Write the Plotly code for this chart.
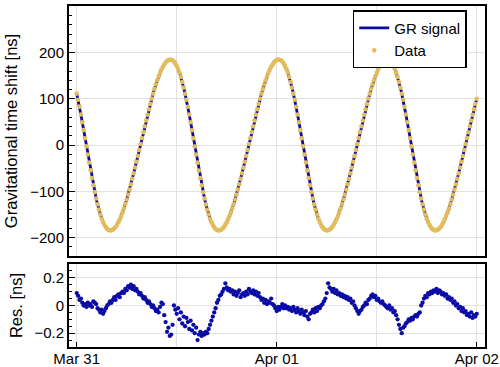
import pandas as pd
import plotly.graph_objects as go

# ---- data (10-minute samples, Mar 31 00:00 -> Apr 02 00:00) ----
start_time = "2016-03-31 00:00"
n_samples = 289
sample_step = "10min"

gr_signal_ns = [
    111.1, 97.9, 82.9, 66.0, 49.3, 32.2, 14.7, -2.9, -20.5, -37.9,
    -54.8, -71.3, -87.0, -101.9, -115.6, -128.3, -139.8, -150.2, -159.3, -166.7,
    -172.9, -177.8, -181.5, -183.9, -184.8, -184.5, -183.1, -180.7, -177.3, -172.7,
    -167.1, -160.8, -153.6, -145.8, -137.1, -127.7, -117.8, -107.4, -96.5, -85.1,
    -73.3, -61.3, -48.9, -36.3, -23.6, -10.8, 2.1, 15.0, 27.8, 40.5,
    53.0, 65.3, 77.3, 88.9, 100.2, 111.0, 121.2, 130.9, 140.0, 148.4,
    156.2, 163.0, 169.0, 174.2, 178.5, 181.8, 183.8, 184.7, 184.5, 183.1,
    180.6, 176.5, 171.0, 164.3, 156.3, 147.0, 136.3, 124.2,
    111.1, 97.9, 82.9, 66.0, 49.3, 32.2, 14.7, -2.9, -20.5, -37.9,
    -54.8, -71.3, -87.0, -101.9, -115.6, -128.3, -139.8, -150.2, -159.3, -166.7,
    -172.9, -177.8, -181.5, -183.9, -184.8, -184.5, -183.1, -180.7, -177.3, -172.7,
    -167.1, -160.8, -153.6, -145.8, -137.1, -127.7, -117.8, -107.4, -96.5, -85.1,
    -73.3, -61.3, -48.9, -36.3, -23.6, -10.8, 2.1, 15.0, 27.8, 40.5,
    53.0, 65.3, 77.3, 88.9, 100.2, 111.0, 121.2, 130.9, 140.0, 148.4,
    156.2, 163.0, 169.0, 174.2, 178.5, 181.8, 183.8, 184.7, 184.5, 183.1,
    180.6, 176.5, 171.0, 164.3, 156.3, 147.0, 136.3, 124.2,
    111.1, 97.9, 82.9, 66.0, 49.3, 32.2, 14.7, -2.9, -20.5, -37.9,
    -54.8, -71.3, -87.0, -101.9, -115.6, -128.3, -139.8, -150.2, -159.3, -166.7,
    -172.9, -177.8, -181.5, -183.9, -184.8, -184.5, -183.1, -180.7, -177.3, -172.7,
    -167.1, -160.8, -153.6, -145.8, -137.1, -127.7, -117.8, -107.4, -96.5, -85.1,
    -73.3, -61.3, -48.9, -36.3, -23.6, -10.8, 2.1, 15.0, 27.8, 40.5,
    53.0, 65.3, 77.3, 88.9, 100.2, 111.0, 121.2, 130.9, 140.0, 148.4,
    156.2, 163.0, 169.0, 174.2, 178.5, 181.8, 183.8, 184.7, 184.5, 183.1,
    180.6, 176.5, 171.0, 164.3, 156.3, 147.0, 136.3, 124.2,
    111.1, 97.9, 82.9, 66.0, 49.3, 32.2, 14.7, -2.9, -20.5, -37.9,
    -54.8, -71.3, -87.0, -101.9, -115.6, -128.3, -139.8, -150.2, -159.3, -166.7,
    -172.9, -177.8, -181.5, -183.9, -184.8, -184.5, -183.1, -180.7, -177.3, -172.7,
    -167.1, -160.8, -153.6, -145.8, -137.1, -127.7, -117.8, -107.4, -96.5, -85.1,
    -73.3, -61.3, -48.9, -36.3, -23.6, -10.8, 2.1, 15.0, 27.8, 40.5,
    53.0, 65.3, 77.3, 88.9, 100.2,
]

residual_ns = [
    0.09, 0.07, 0.04, 0.05, 0.02, 0.00, 0.01, -0.01, 0.02, 0.00,
    0.01, -0.01, 0.03, 0.02, 0.01, -0.02, -0.03, -0.05, -0.03, -0.06,
    -0.04, -0.02, 0.00, 0.01, 0.03, 0.02, 0.04, 0.06, 0.04, 0.07,
    0.08, 0.06, 0.09, 0.10, 0.09, 0.12, 0.11, 0.14, 0.13, 0.15,
    0.12, 0.14, 0.11, 0.12, 0.10, 0.08, 0.09, 0.07, 0.05, 0.06,
    0.04, 0.02, 0.03, 0.01, -0.01, 0.00, -0.02, -0.04, -0.03, -0.05,
    -0.01, 0.02, 0.01, -0.07, -0.12, -0.19, -0.16, -0.22, -0.21, -0.14,
    0.00, -0.03, -0.06, -0.02, -0.10, -0.05, -0.13, -0.08, -0.15, -0.09,
    -0.12, -0.17, -0.11, -0.18, -0.14, -0.20, -0.16, -0.25, -0.21, -0.19,
    -0.22, -0.20, -0.21, -0.19, -0.20, -0.17, -0.14, -0.11, -0.08, -0.05,
    -0.02, 0.02, 0.04, 0.07, 0.08, 0.10, 0.12, 0.16, 0.13, 0.11,
    0.12, 0.10, 0.11, 0.08, 0.10, 0.07, 0.09, 0.11, 0.06, 0.08,
    0.09, 0.07, 0.10, 0.08, 0.12, 0.10, 0.09, 0.11, 0.08, 0.10,
    0.07, 0.09, 0.06, 0.04, 0.05, 0.02, 0.04, 0.01, 0.03, 0.02,
    0.05, 0.01, 0.00, -0.02, -0.04, -0.01, -0.03, -0.01, 0.01, -0.02,
    0.00, -0.02, -0.01, -0.03, -0.02, -0.04, -0.01, -0.03, -0.05, -0.02,
    -0.04, -0.06, -0.03, -0.05, -0.07, -0.04, -0.08, -0.10, -0.06, -0.05,
    -0.03, -0.05, -0.02, -0.04, -0.01, -0.02, 0.00, 0.01, 0.03, 0.05,
    0.09, 0.16, 0.13, 0.12, 0.10, 0.12, 0.09, 0.11, 0.08, 0.09,
    0.07, 0.08, 0.06, 0.07, 0.05, 0.06, 0.04, 0.05, 0.02, 0.03,
    0.00, -0.02, -0.04, -0.06, -0.04, -0.03, -0.01, 0.00, 0.02, 0.01,
    0.04, 0.05, 0.07, 0.08, 0.06, 0.07, 0.04, 0.05, 0.03, 0.02,
    0.03, 0.01, 0.00, -0.01, -0.02, 0.00, -0.03, -0.02, -0.05, -0.04,
    -0.07, -0.10, -0.14, -0.17, -0.20, -0.16, -0.15, -0.13, -0.12, -0.10,
    -0.11, -0.09, -0.10, -0.08, -0.07, -0.08, -0.06, -0.05, 0.00, 0.02,
    0.05, 0.07, 0.06, 0.09, 0.08, 0.10, 0.09, 0.11, 0.10, 0.12,
    0.09, 0.11, 0.10, 0.08, 0.09, 0.07, 0.08, 0.05, 0.06, 0.04,
    0.05, 0.02, 0.03, 0.00, 0.01, -0.02, -0.01, -0.04, -0.02, -0.05,
    -0.04, -0.07, -0.06, -0.08, -0.05, -0.09, -0.07, -0.08, -0.06,
]

x_tick_labels = ["Mar 31", "Apr 01", "Apr 02"]
x_tick_values = ["2016-03-31", "2016-04-01", "2016-04-02"]

# ---- derived table ----
times = pd.date_range(start_time, periods=n_samples, freq=sample_step)
df = pd.DataFrame({"t": times, "gr": gr_signal_ns, "res": residual_ns})
df["data"] = df["gr"] + df["res"]

BLUE = "#0B0BA6"
GOLD = "#E3BC5B"
FONT = "Liberation Sans, Arial, Helvetica, sans-serif"
GRID = "#E2E2E2"

fig = go.Figure()
fig.add_trace(go.Scatter(x=df["t"], y=df["gr"], mode="lines", name="GR signal",
                         line=dict(color=BLUE, width=2.8), xaxis="x", yaxis="y"))
fig.add_trace(go.Scatter(x=df["t"], y=df["data"], mode="markers", name="Data",
                         marker=dict(color=GOLD, size=4.6), xaxis="x", yaxis="y"))
fig.add_trace(go.Scatter(x=df["t"], y=df["res"], mode="markers", showlegend=False,
                         marker=dict(color=BLUE, size=4.3), xaxis="x2", yaxis="y2"))

xrange = ["2016-03-30 23:04:30", "2016-04-02 00:59:30"]
common_x = dict(type="date", range=xrange, showline=True, mirror=True, linewidth=2,
                linecolor="black", showgrid=True, gridcolor=GRID, gridwidth=1,
                zeroline=False, automargin=False)

fig.update_layout(
    width=500, height=367,
    margin=dict(l=69, r=15, t=6, b=20, autoexpand=False),
    paper_bgcolor="white", plot_bgcolor="white",
    font=dict(family=FONT, color="black", size=15),
    xaxis=dict(common_x, anchor="y", showticklabels=False, ticks="",
               dtick=43200000, tick0="2016-03-31"),
    xaxis2=dict(common_x, anchor="y2", matches="x", showticklabels=True,
                tickmode="array", tickvals=x_tick_values, ticktext=x_tick_labels,
                ticks="inside", ticklen=5, tickcolor="black", tickfont=dict(size=15),
                ticklabelstandoff=-3,
                minor=dict(dtick=43200000, tick0="2016-03-31", showgrid=True,
                           gridcolor=GRID, ticks="")),
    yaxis=dict(domain=[0.2669, 1.0], range=[-240, 300.6], dtick=100, automargin=False,
               showline=True, mirror=True, linewidth=2, linecolor="black",
               showgrid=True, gridcolor=GRID, zeroline=False,
               ticks="inside", ticklen=6, tickwidth=1.2, tickcolor="black",
               minor=dict(dtick=20, ticks="inside", ticklen=3, tickcolor="black", showgrid=False),
               tickfont=dict(size=15),
               title=dict(text="Gravitational time shift [ns]", font=dict(size=16.5), standoff=8)),
    yaxis2=dict(domain=[0.0, 0.2434], range=[-0.3, 0.3], dtick=0.2, automargin=False,
                showline=True, mirror=True, linewidth=2, linecolor="black",
                showgrid=True, gridcolor=GRID, zeroline=False,
                ticks="inside", ticklen=6, tickwidth=1.2, tickcolor="black",
                minor=dict(dtick=0.05, ticks="inside", ticklen=3, tickcolor="black", showgrid=False),
                tickfont=dict(size=15),
                title=dict(text="Res. [ns]", font=dict(size=16.5), standoff=8)),
    legend=dict(x=0.682, y=0.988, xanchor="left", yanchor="top",
                bgcolor="white", bordercolor="black", borderwidth=1.5,
                font=dict(size=15), itemwidth=30, tracegroupgap=0),
    showlegend=True,
)

# the page body has a default 8 px margin; remove it so the figure fills the window
fig.write_html("out.html", config={"displayModeBar": False},
               post_script="document.body.style.margin='0';document.body.style.padding='0';")
